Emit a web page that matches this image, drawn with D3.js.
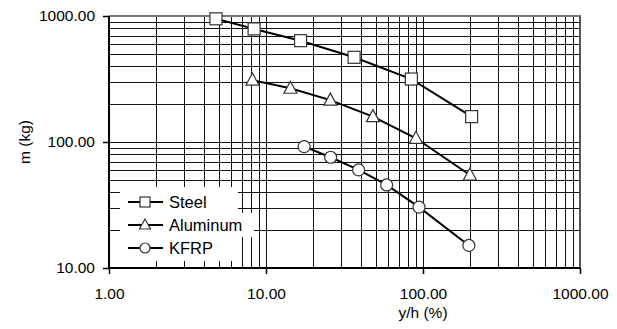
<!DOCTYPE html>
<html><head><meta charset="utf-8">
<script src="https://cdn.jsdelivr.net/npm/d3@7"></script>
<style>body{margin:0;background:#fff;} svg{display:block;font-family:"Liberation Sans",Arial,sans-serif;}</style>
</head><body><svg id="c" width="617" height="329"></svg>
<script>
const xTickLabels = ["1.00","10.00","100.00","1000.00"];
const yTickLabels = ["10.00","100.00","1000.00"];
const seriesNames = ["Steel","Aluminum","KFRP"];
const steelX = [4.8, 8.4, 16.6, 36.4, 84.3, 204];
const steelY = [950, 790, 637, 470, 316, 159];
const aluX = [8.2, 14.3, 25.7, 48.0, 90.2, 199];
const aluY = [310, 267, 215, 159, 107, 54.7];
const kfrpX = [17.5, 25.8, 38.9, 58.7, 94.3, 196];
const kfrpY = [91.8, 75.7, 60, 45.6, 30.4, 15.1];

const svg = d3.select("#c");
const L=109, R=580, T=16, B=268;
const x = d3.scaleLog().domain([1,1000]).range([L,R]);
const y = d3.scaleLog().domain([10,1000]).range([B,T]);

const minor = [];
for (let d of [1,10,100]) for (let k=1;k<=10;k++) minor.push(d*k);
const minorY = [];
for (let d of [10,100]) for (let k=1;k<=10;k++) minorY.push(d*k);

const g = svg.append("g");
g.selectAll("line.vg").data(minor).enter().append("line")
  .attr("x1",d=>Math.round(x(d))+0.5).attr("x2",d=>Math.round(x(d))+0.5)
  .attr("y1",T).attr("y2",B).attr("stroke","#111").attr("stroke-width",1);
g.selectAll("line.hg").data(minorY).enter().append("line")
  .attr("y1",d=>Math.round(y(d))+0.5).attr("y2",d=>Math.round(y(d))+0.5)
  .attr("x1",L).attr("x2",R).attr("stroke","#111").attr("stroke-width",1);

// border top/right
svg.append("line").attr("x1",L).attr("x2",R+1).attr("y1",T).attr("y2",T).attr("stroke","#777").attr("stroke-width",2);
svg.append("line").attr("x1",R).attr("x2",R).attr("y1",T).attr("y2",B).attr("stroke","#555").attr("stroke-width",2);

// legend background
svg.append("rect").attr("x",120).attr("y",187).attr("width",118).attr("height",74).attr("fill","#fff");
svg.append("rect").attr("x",120).attr("y",213).attr("width",134).attr("height",24).attr("fill","#fff");

// axes
const xAxis = d3.axisBottom(x).tickValues([1,10,100,1000]).tickFormat((d,i)=>xTickLabels[i]).tickSize(6).tickPadding(14);
const yAxis = d3.axisLeft(y).tickValues([10,100,1000]).tickFormat((d,i)=>yTickLabels[i]).tickSize(6).tickPadding(8);
const gx = svg.append("g").attr("transform",`translate(0,${B})`).call(xAxis);
const gy = svg.append("g").attr("transform",`translate(${L},0)`).call(yAxis);
[gx,gy].forEach(a=>{
  a.select(".domain").attr("stroke","#000").attr("stroke-width",2);
  a.selectAll(".tick line").attr("stroke","#000").attr("stroke-width",1.5);
  a.selectAll("text").attr("font-size",15.5).attr("fill","#000").attr("font-family","'Liberation Sans',Arial,sans-serif");
});
gx.select(".domain").attr("d",`M${L},0H${R}`);
gy.select(".domain").attr("d",`M0,${T}V${B}`);

// titles
svg.append("text").attr("x",423).attr("y",318).attr("text-anchor","middle").attr("font-size",15.5).text("y/h (%)");
svg.append("text").attr("transform","translate(30,142) rotate(-90)").attr("text-anchor","middle").attr("font-size",15.5).text("m (kg)");

const series = [
  {name:seriesNames[0], xs:steelX, ys:steelY, m:"square"},
  {name:seriesNames[1], xs:aluX, ys:aluY, m:"triangle"},
  {name:seriesNames[2], xs:kfrpX, ys:kfrpY, m:"circle"}
];
const line = d3.line().x(d=>x(d[0])).y(d=>y(d[1]));
function marker(sel, type, cx, cy){
  if(type==="square") sel.append("rect").attr("x",cx-6).attr("y",cy-6).attr("width",12).attr("height",12);
  else if(type==="triangle") sel.append("path").attr("d",`M${cx},${cy-7}L${cx+6.5},${cy+5}L${cx-6.5},${cy+5}Z`);
  else sel.append("circle").attr("cx",cx).attr("cy",cy).attr("r",6);
}
series.forEach(s=>{
  const pts = s.xs.map((v,i)=>[v,s.ys[i]]);
  svg.append("path").datum(pts).attr("d",line).attr("fill","none").attr("stroke","#000").attr("stroke-width",2);
  const mg = svg.append("g").attr("fill","#fff").attr("stroke","#333").attr("stroke-width",1.2);
  pts.forEach(p=>marker(mg, s.m, x(p[0]), y(p[1])));
});

// legend
const ly = [202,225,248];
series.forEach((s,i)=>{
  svg.append("line").attr("x1",128).attr("x2",163).attr("y1",ly[i]).attr("y2",ly[i]).attr("stroke","#000").attr("stroke-width",2);
  const mg = svg.append("g").attr("fill","#fff").attr("stroke","#333").attr("stroke-width",1.2);
  if(s.m==="square") mg.append("rect").attr("x",140).attr("y",ly[i]-5).attr("width",10).attr("height",10);
  else if(s.m==="triangle") mg.append("path").attr("d",`M145,${ly[i]-6}L150.5,${ly[i]+4}L139.5,${ly[i]+4}Z`);
  else mg.append("circle").attr("cx",145).attr("cy",ly[i]).attr("r",5);
  svg.append("text").attr("x",169).attr("y",ly[i]+6).attr("font-size",16.5).text(s.name);
});
</script></body></html>
